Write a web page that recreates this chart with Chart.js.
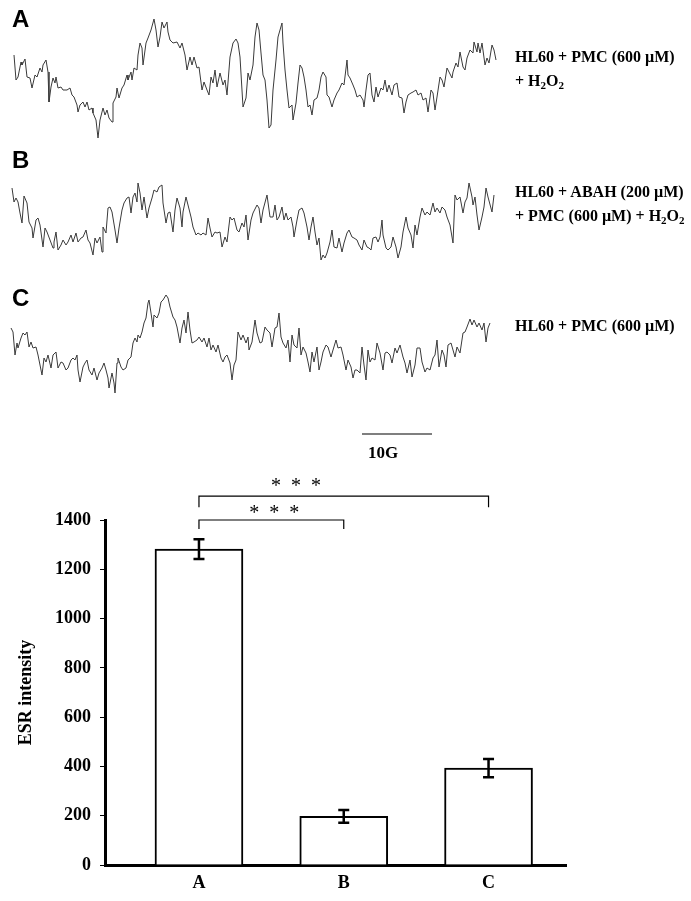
<!DOCTYPE html>
<html>
<head>
<meta charset="utf-8">
<script src="https://cdn.jsdelivr.net/npm/chart.js@4.4.1/dist/chart.umd.min.js"></script>
<style>
  html, body { margin: 0; padding: 0; background: #fff; }
  #page { position: relative; width: 691px; height: 901px; background: #fff; overflow: hidden; }
  .panel { position: absolute; font: bold 24px "Liberation Sans", Arial, sans-serif; color: #000; line-height: 24px; }
  .cond { position: absolute; left: 515px; font: bold 16px "Liberation Serif", "Times New Roman", serif; color: #000; line-height: 16px; white-space: nowrap; }
  .cond sub { font-size: 11px; vertical-align: -3px; line-height: 0; }
  #scaleLbl { position: absolute; left: 368px; top: 444px; font: bold 17px "Liberation Serif", serif; line-height: 17px; }
  #traces { position: absolute; left: 0; top: 0; }
  #bars { position: absolute; left: 0; top: 440px; }
</style>
</head>
<body>
<div id="page">
  <canvas id="traces" width="691" height="460"></canvas>
  <canvas id="bars" width="691" height="461"></canvas>
  <div class="panel" style="left:12px;top:7px">A</div>
  <div class="panel" style="left:12px;top:148px">B</div>
  <div class="panel" style="left:12px;top:286px">C</div>
  <div class="cond" style="top:49px">HL60 + PMC (600 µM)</div>
  <div class="cond" style="top:73px">+ H<sub>2</sub>O<sub>2</sub></div>
  <div class="cond" style="top:184px">HL60 + ABAH (200 µM)</div>
  <div class="cond" style="top:208px">+ PMC (600 µM) + H<sub>2</sub>O<sub>2</sub></div>
  <div class="cond" style="top:318px">HL60 + PMC (600 µM)</div>
  <div id="scaleLbl">10G</div>
</div>
<script>
// ESR spectra: [field, signal] (signal axis points down)
const spectrumA = [[14,55],[16,80],[18,77],[21,62],[22,65],[25,59],[27,77],[30,78],[32,88],[35,75],[37,77],[40,68],[42,72],[43,65],[46,60],[48,72],[49,102],[51,87],[53,78],[55,83],[56,77],[58,88],[61,87],[63,90],[67,90],[70,88],[72,95],[74,97],[77,105],[78,112],[80,105],[83,102],[85,107],[87,102],[89,110],[92,108],[93,113],[96,120],[98,138],[100,120],[103,108],[105,115],[107,110],[109,118],[112,122],[113,103],[116,97],[117,88],[119,98],[122,88],[124,85],[127,75],[128,80],[131,72],[132,80],[134,68],[137,70],[138,55],[140,43],[142,48],[143,65],[146,43],[148,38],[151,30],[154,19],[156,30],[158,47],[160,37],[162,22],[164,28],[167,22],[168,32],[170,40],[173,43],[177,42],[180,48],[182,43],[185,55],[187,70],[190,57],[192,65],[194,57],[197,68],[199,67],[202,90],[204,82],[207,90],[209,95],[211,77],[213,83],[215,70],[217,87],[220,73],[223,85],[225,80],[227,95],[230,57],[233,43],[236,39],[238,43],[240,57],[243,107],[246,98],[248,73],[250,80],[253,65],[255,37],[257,23],[259,30],[261,53],[263,75],[265,80],[267,100],[269,128],[271,125],[273,90],[276,60],[278,37],[282,23],[283,43],[285,70],[287,90],[289,108],[292,105],[293,120],[296,103],[298,83],[300,65],[302,68],[304,77],[306,90],[308,107],[310,105],[312,115],[314,100],[317,98],[319,90],[321,77],[323,72],[326,77],[327,95],[329,97],[332,107],[334,100],[337,93],[339,90],[342,83],[344,85],[347,60],[348,75],[350,78],[353,85],[355,90],[357,97],[360,95],[363,100],[364,107],[366,90],[368,75],[370,73],[372,95],[374,102],[376,87],[378,97],[381,88],[383,90],[385,80],[387,92],[389,85],[392,95],[394,85],[397,83],[399,97],[402,98],[404,113],[406,102],[408,95],[411,93],[413,92],[416,90],[418,95],[421,93],[423,100],[426,98],[428,112],[431,90],[433,93],[435,110],[437,97],[440,77],[442,80],[444,87],[447,68],[449,72],[452,78],[453,72],[456,63],[458,67],[460,52],[463,67],[465,70],[467,58],[470,50],[473,53],[474,42],[477,52],[478,43],[480,53],[482,43],[485,65],[487,58],[489,63],[492,45],[494,50],[496,60]];
const spectrumB = [[12,188],[14,202],[16,198],[18,202],[20,213],[22,223],[24,196],[27,203],[29,222],[32,228],[33,238],[36,220],[38,218],[40,225],[43,247],[45,228],[47,232],[50,240],[53,248],[54,242],[56,232],[58,250],[61,245],[63,240],[66,245],[68,242],[71,235],[73,242],[76,233],[78,242],[81,238],[83,237],[86,230],[88,240],[90,243],[93,255],[95,238],[97,243],[100,237],[102,252],[103,227],[106,233],[108,208],[110,207],[112,212],[115,230],[117,243],[119,228],[122,210],[124,203],[127,198],[129,197],[131,213],[133,197],[135,193],[137,202],[138,183],[140,193],[142,210],[144,197],[147,218],[149,208],[152,198],[154,190],[157,192],[159,187],[162,185],[163,203],[166,223],[168,213],[170,212],[173,232],[175,210],[177,198],[180,208],[182,227],[183,212],[186,197],[188,205],[191,217],[193,227],[196,235],[198,233],[201,235],[203,233],[206,235],[208,218],[210,228],[212,237],[215,232],[217,233],[220,232],[222,247],[225,237],[227,242],[230,217],[232,220],[234,218],[237,230],[239,232],[242,223],[244,227],[246,215],[248,240],[251,220],[253,213],[257,205],[259,208],[261,223],[263,210],[267,195],[270,217],[273,217],[275,205],[277,220],[279,217],[282,207],[284,220],[286,213],[288,220],[291,217],[293,227],[294,237],[297,220],[299,210],[302,208],[304,213],[307,227],[309,240],[311,227],[313,217],[315,232],[317,245],[319,238],[321,260],[323,255],[325,258],[327,253],[330,242],[332,230],[334,247],[337,248],[339,238],[342,252],[344,243],[347,233],[349,230],[352,237],[354,238],[357,240],[359,245],[362,250],[364,240],[367,247],[369,248],[371,250],[373,238],[376,237],[378,242],[380,237],[382,220],[383,235],[386,248],[388,250],[391,247],[393,237],[396,247],[398,258],[401,247],[403,232],[406,217],[408,228],[411,235],[413,248],[415,225],[417,235],[420,217],[422,208],[425,215],[427,212],[430,215],[433,203],[435,212],[437,208],[440,213],[442,207],[445,210],[447,217],[450,225],[453,243],[455,195],[457,200],[460,197],[463,213],[465,202],[467,198],[469,183],[472,197],[473,205],[475,197],[477,215],[479,230],[482,217],[484,207],[486,188],[488,197],[492,212],[494,195]];
const spectrumC = [[11,328],[13,332],[15,355],[17,343],[18,348],[21,338],[23,333],[25,335],[27,332],[29,347],[31,342],[33,348],[36,347],[38,355],[40,365],[42,375],[44,358],[46,362],[48,355],[51,368],[53,355],[56,352],[58,368],[61,362],[63,363],[66,370],[68,368],[71,360],[73,358],[75,360],[77,355],[78,370],[80,382],[83,367],[85,363],[87,360],[89,370],[92,375],[94,368],[97,380],[99,373],[102,368],[104,363],[106,370],[108,378],[109,388],[112,373],[114,383],[115,393],[117,363],[118,358],[121,367],[123,370],[126,368],[128,360],[131,357],[133,343],[135,338],[137,342],[138,335],[140,338],[142,332],[144,323],[146,318],[148,303],[149,300],[151,313],[153,327],[154,315],[157,318],[159,313],[161,302],[163,300],[166,295],[168,298],[170,307],[173,317],[175,320],[177,327],[180,343],[182,328],[184,320],[186,333],[188,312],[190,330],[192,343],[194,342],[197,340],[199,337],[202,342],[204,338],[207,347],[209,338],[211,350],[213,345],[216,352],[218,345],[221,358],[223,362],[225,357],[227,355],[230,363],[232,380],[234,365],[236,360],[238,332],[241,340],[243,335],[246,343],[248,337],[249,350],[252,342],[255,320],[257,333],[260,343],[262,342],[265,327],[267,330],[270,333],[272,347],[275,328],[277,327],[279,313],[281,337],[283,343],[286,348],[288,340],[290,362],[292,335],[294,345],[297,348],[299,328],[301,355],[303,347],[306,353],[308,362],[310,372],[312,352],[314,362],[317,347],[319,370],[321,362],[323,352],[326,345],[328,347],[331,357],[333,350],[336,340],[338,348],[341,347],[343,355],[346,370],[348,360],[351,367],[353,378],[355,370],[357,370],[360,373],[362,347],[364,365],[366,380],[368,350],[370,362],[372,358],[375,360],[377,343],[380,353],[383,370],[385,353],[387,352],[390,355],[392,363],[395,348],[397,353],[400,345],[403,357],[405,363],[407,373],[410,360],[412,377],[415,365],[417,348],[420,348],[422,362],[425,372],[427,368],[430,370],[433,358],[435,355],[437,340],[439,367],[442,350],[444,355],[446,367],[448,345],[451,343],[453,350],[455,357],[457,347],[460,353],[463,333],[465,332],[467,327],[470,319],[472,325],[474,320],[477,327],[479,323],[482,330],[484,323],[486,342],[488,328],[490,323]];
const scaleBar = [[362,434],[432,434]]; // 10 G

// bar chart
const groups = ['A', 'B', 'C'];
const esrMean = [1282, 197, 393];
const esrErr = [40, 26, 37];
const yMax = 1400;
const yStep = 200;
// significance brackets: [from, to, level, drop, star x, star level]
const brackets = [[0, 1, 1400, 37, 0.52, 1441], [0, 2, 1497, 45, 0.67, 1550]];

const serif = '"Liberation Serif", "Times New Roman", serif';

const toXY = arr => arr.map(p => ({ x: p[0], y: p[1] }));
const traceSet = (arr) => ({
    data: toXY(arr), borderColor: '#3a3a3a', borderWidth: 1, pointRadius: 0, tension: 0, fill: false
});

new Chart(document.getElementById('traces'), {
    type: 'line',
    data: {
        datasets: [traceSet(spectrumA), traceSet(spectrumB), traceSet(spectrumC),
            { data: toXY(scaleBar), borderColor: '#000', borderWidth: 1.2, pointRadius: 0 }]
    },
    options: {
        responsive: false, animation: false,
        layout: { padding: 0 },
        plugins: { legend: { display: false }, tooltip: { enabled: false } },
        scales: {
            x: { type: 'linear', min: 0, max: 691, display: false },
            y: { type: 'linear', min: 0, max: 460, reverse: true, display: false }
        }
    }
});

const annotations = {
    id: 'annotations',
    afterDatasetsDraw(chart) {
        const { ctx, scales: { x, y } } = chart;
        ctx.save();
        ctx.strokeStyle = '#000';
        // error bars
        ctx.lineWidth = 2.5;
        esrMean.forEach((m, i) => {
            const px = x.getPixelForValue(i);
            const top = y.getPixelForValue(m + esrErr[i]);
            const bot = y.getPixelForValue(m - esrErr[i]);
            ctx.beginPath();
            ctx.moveTo(px, top); ctx.lineTo(px, bot);
            ctx.moveTo(px - 5.5, top); ctx.lineTo(px + 5.5, top);
            ctx.moveTo(px - 5.5, bot); ctx.lineTo(px + 5.5, bot);
            ctx.stroke();
        });
        // brackets
        ctx.lineWidth = 1.2;
        ctx.fillStyle = '#000';
        ctx.font = '20px ' + serif;
        ctx.textAlign = 'center';
        ctx.textBaseline = 'middle';
        brackets.forEach(b => {
            const x1 = x.getPixelForValue(b[0]), x2 = x.getPixelForValue(b[1]);
            const yl = y.getPixelForValue(b[2]), yd = y.getPixelForValue(b[2] - b[3]);
            ctx.beginPath();
            ctx.moveTo(x1, yd); ctx.lineTo(x1, yl); ctx.lineTo(x2, yl); ctx.lineTo(x2, yd);
            ctx.stroke();
            ctx.fillText('*  *  *', x.getPixelForValue(b[4]), y.getPixelForValue(b[5]) + 4);
        });
        ctx.restore();
    }
};

new Chart(document.getElementById('bars'), {
    type: 'bar',
    data: {
        datasets: [{
            data: esrMean.map((v, i) => ({ x: i, y: v })),
            backgroundColor: '#fff', borderColor: '#000', borderWidth: 2, barThickness: 88
        }]
    },
    options: {
        responsive: false, animation: false,
        layout: { padding: { left: 0, right: 125, top: 80, bottom: 0 } },
        plugins: { legend: { display: false }, tooltip: { enabled: false } },
        scales: {
            x: {
                type: 'linear', min: -0.649, max: 2.535, offset: false,
                afterBuildTicks: s => { s.ticks = groups.map((g, i) => ({ value: i })); },
                afterFit: s => { s.height = 36; },
                ticks: { callback: v => groups[v], color: '#000', font: { family: serif, size: 18, weight: 'bold' }, padding: 8 },
                grid: { offset: false, drawOnChartArea: false, drawTicks: false },
                border: { display: true, width: 3, color: '#000' }
            },
            y: {
                min: 0, max: yMax,
                afterFit: s => { s.width = 105; },
                ticks: { stepSize: yStep, callback: v => String(v), color: '#000', font: { family: serif, size: 18, weight: 'bold' }, padding: 9 },
                grid: { drawOnChartArea: false, drawTicks: true, tickLength: 5, color: '#000' },
                border: { display: true, width: 3, color: '#000' },
                title: { display: true, text: 'ESR intensity', color: '#000', font: { family: serif, size: 18, weight: 'bold' }, padding: { top: 16, bottom: 0 } }
            }
        }
    },
    plugins: [annotations]
});
</script>
</body>
</html>
